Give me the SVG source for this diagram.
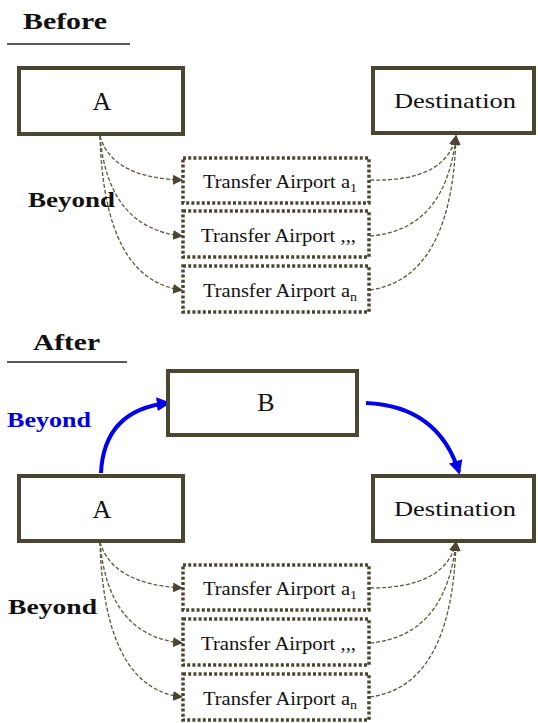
<svg xmlns="http://www.w3.org/2000/svg" width="538" height="723" viewBox="0 0 538 723">
  <defs>
    <style>
      .serif { font-family: "Liberation Serif", "DejaVu Serif Condensed", "DejaVu Serif", "Times New Roman", serif; }
      .hdr { font-weight: bold; font-size: 23px; fill: #111; }
      .rule { stroke: #222; stroke-width: 1.5; }
      .box rect { fill: #fff; stroke: #4a4632; stroke-width: 4; }
      .lbl { font-size: 22px; fill: #111; }
      .big { font-size: 26px; text-anchor: middle; }
      .tbox rect { fill: #fff; stroke: #4a4632; stroke-width: 3.5; stroke-dasharray: 3 2.2; }
      .tlbl { font-size: 19px; fill: #111; }
      .sub { font-size: 13px; }
      .dash { fill: none; stroke: #5a5640; stroke-width: 1.3; stroke-dasharray: 4 2; }
      .blue { fill: none; stroke: #0000ee; stroke-width: 4; }
      .bey { font-weight: bold; font-size: 22px; fill: #111; }
    </style>
    <marker id="ah" viewBox="0 0 10 10" refX="9" refY="5" markerWidth="10" markerHeight="10" markerUnits="userSpaceOnUse" orient="auto">
      <path d="M0,0 L10,5 L0,10 z" fill="#4a4632"/>
    </marker>
    <marker id="ahb" viewBox="0 0 10 10" refX="8" refY="5" markerWidth="14" markerHeight="14" markerUnits="userSpaceOnUse" orient="auto">
      <path d="M0,0 L10,5 L0,10 z" fill="#0000ee"/>
    </marker>
  </defs>

  <g class="serif">
  <!-- Before section -->
  <text class="hdr" x="23" y="29" textLength="84" lengthAdjust="spacingAndGlyphs">Before</text>
  <line class="rule" x1="7" y1="44" x2="130" y2="44"/>

  <g id="connectors-before">
    <path class="dash" d="M100,136 Q112,178 182,180" marker-end="url(#ah)"/>
    <path class="dash" d="M100,136 Q108,228 182,236" marker-end="url(#ah)"/>
    <path class="dash" d="M100,136 Q104,280 182,290" marker-end="url(#ah)"/>
    <path class="dash" d="M370,180 Q446,182 456,136" marker-end="url(#ah)"/>
    <path class="dash" d="M370,236 Q446,230 456,136" marker-end="url(#ah)"/>
    <path class="dash" d="M370,290 Q452,278 456,136" marker-end="url(#ah)"/>
  </g>

  <g id="before-A" class="box">
    <rect x="19" y="68" width="164" height="66"/>
    <text class="lbl big" x="102" y="110">A</text>
  </g>
  <g id="before-destination" class="box">
    <rect x="373" y="68" width="161" height="65"/>
    <text class="lbl" x="394" y="108" textLength="122" lengthAdjust="spacingAndGlyphs">Destination</text>
  </g>
  <g id="before-transfer-1" class="tbox">
    <rect x="183" y="158" width="186" height="45"/>
    <text class="tlbl" x="203" y="188" textLength="154" lengthAdjust="spacingAndGlyphs">Transfer Airport a<tspan class="sub" dy="4">1</tspan></text>
  </g>
  <g id="before-transfer-2" class="tbox">
    <rect x="183" y="211" width="186" height="46"/>
    <text class="tlbl" x="201" y="242" textLength="155" lengthAdjust="spacingAndGlyphs">Transfer Airport ,,,</text>
  </g>
  <g id="before-transfer-n" class="tbox">
    <rect x="183" y="266" width="186" height="46"/>
    <text class="tlbl" x="203" y="297" textLength="154" lengthAdjust="spacingAndGlyphs">Transfer Airport a<tspan class="sub" dy="4">n</tspan></text>
  </g>
  <text class="bey" x="28" y="207" textLength="87" lengthAdjust="spacingAndGlyphs">Beyond</text>

  <!-- After section -->
  <text class="hdr" x="33" y="350" textLength="67" lengthAdjust="spacingAndGlyphs">After</text>
  <line class="rule" x1="7" y1="362" x2="127" y2="362"/>

  <g id="connectors-after">
    <path class="blue" d="M101,473 Q104,410 168,403" marker-end="url(#ahb)"/>
    <path class="blue" d="M366,403 Q438,406 459,472" marker-end="url(#ahb)"/>
    <path class="dash" d="M100,542 Q112,584 182,588" marker-end="url(#ah)"/>
    <path class="dash" d="M100,542 Q108,636 182,643" marker-end="url(#ah)"/>
    <path class="dash" d="M100,542 Q104,688 182,697" marker-end="url(#ah)"/>
    <path class="dash" d="M370,588 Q446,588 456,542" marker-end="url(#ah)"/>
    <path class="dash" d="M370,643 Q446,636 456,542" marker-end="url(#ah)"/>
    <path class="dash" d="M370,697 Q452,686 456,542" marker-end="url(#ah)"/>
  </g>

  <g id="after-B" class="box">
    <rect x="168" y="371" width="189" height="64"/>
    <text class="lbl big" x="266" y="411">B</text>
  </g>
  <g id="after-A" class="box">
    <rect x="19" y="476" width="164" height="65"/>
    <text class="lbl big" x="102" y="518">A</text>
  </g>
  <g id="after-destination" class="box">
    <rect x="373" y="476" width="161" height="65"/>
    <text class="lbl" x="394" y="516" textLength="122" lengthAdjust="spacingAndGlyphs">Destination</text>
  </g>
  <g id="after-transfer-1" class="tbox">
    <rect x="183" y="565" width="186" height="45"/>
    <text class="tlbl" x="203" y="595" textLength="154" lengthAdjust="spacingAndGlyphs">Transfer Airport a<tspan class="sub" dy="4">1</tspan></text>
  </g>
  <g id="after-transfer-2" class="tbox">
    <rect x="183" y="619" width="186" height="46"/>
    <text class="tlbl" x="201" y="650" textLength="155" lengthAdjust="spacingAndGlyphs">Transfer Airport ,,,</text>
  </g>
  <g id="after-transfer-n" class="tbox">
    <rect x="183" y="674" width="186" height="46"/>
    <text class="tlbl" x="203" y="705" textLength="154" lengthAdjust="spacingAndGlyphs">Transfer Airport a<tspan class="sub" dy="4">n</tspan></text>
  </g>
  <text class="bey" x="7" y="427" textLength="84" lengthAdjust="spacingAndGlyphs" style="fill:#0000dd">Beyond</text>
  <text class="bey" x="8" y="614" textLength="89" lengthAdjust="spacingAndGlyphs">Beyond</text>
  </g>
</svg>
